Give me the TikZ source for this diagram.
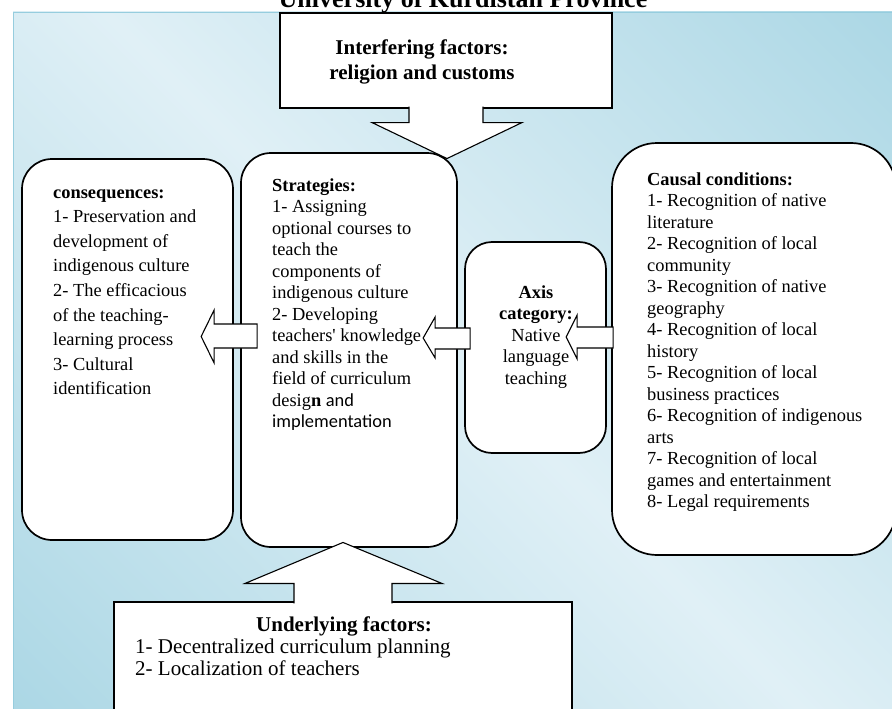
\documentclass[tikz,border=0pt]{standalone}
\usepackage{fontspec}
\setmainfont{Liberation Serif}
\newfontfamily\calibrifont{Carlito}
\usetikzlibrary{calc}

\definecolor{bgdark}{RGB}{150,205,222}
\definecolor{bglight}{RGB}{224,240,246}
\pgfdeclarehorizontalshading{bgfade}{100bp}{color(0bp)=(bgdark); color(50bp)=(bglight); color(100bp)=(bgdark)}

\tikzset{
  roundbox/.style={draw, fill=white, line width=1.7pt, rounded corners=30pt, inner sep=0pt},
  plainbox/.style={draw, fill=white, line width=1.1pt, inner sep=0pt},
  blockarrow/.style={draw, fill=white, line width=1.1pt, line join=miter},
  txt/.style={inner sep=0pt, align=left, font=\fontsize{18.4}{21.5}\selectfont},
}

\begin{document}
\begin{tikzpicture}[x=1pt,y=-1pt]
    \useasboundingbox (0,0) rectangle (892,709);
    \clip (0,0) rectangle (892,709);
    \shade[shading=bgfade, shading angle=45] (13,12) rectangle (896,712);
    \draw[bgdark, line width=0.8pt] (13,712) -- (13,12) -- (896,12);
    \node[inner sep=0pt, anchor=base, font=\bfseries\fontsize{26}{30}\selectfont] (title) at (463,8) {University of Kurdistan Province};

    \node[plainbox, minimum width=332, minimum height=95] (interf) at (446,60.5) {};
    \node[roundbox, minimum width=211, minimum height=381] (conseq) at (127.5,349.5) {};
    \node[roundbox, minimum width=216, minimum height=394] (strat) at (349,350) {};
    \node[roundbox, rounded corners=27pt, minimum width=141, minimum height=211] (axis) at (535.5,347.5) {};
    \node[roundbox, rounded corners=45pt, minimum width=284, minimum height=412] (causal) at (754,349) {};
    \node[plainbox, minimum width=458, minimum height=110] (under) at (343,657) {};

    \node[txt, align=center, anchor=base, font=\bfseries\fontsize{21}{25}\selectfont] (interftxt) at (422,80) {Interfering factors:\\religion and customs};
    \node[txt, anchor=base west, font=\fontsize{18.4}{24.6}\selectfont] (conseqtxt) at (53,394.8) {\textbf{consequences:}\\1- Preservation and\\development of\\indigenous culture\\2- The efficacious\\of the teaching-\\learning process\\3- Cultural\\identification};
    \node[txt, anchor=base west] (strattxt) at (272,427.5) {\textbf{Strategies:}\\1- Assigning\\optional courses to\\teach the\\components of\\indigenous culture\\2- Developing\\teachers\textquotesingle{} knowledge\\and skills in the\\field of curriculum\\desig\textbf{n} {\calibrifont and}\\{\calibrifont implementation}};
    \node[txt, align=center, anchor=base] (axistxt) at (536,384) {\textbf{Axis}\\\textbf{category:}\\Native\\language\\teaching};
    \node[txt, anchor=base west] (causaltxt) at (647,507.5) {\textbf{Causal conditions:}\\1- Recognition of native\\literature\\2- Recognition of local\\community\\3- Recognition of native\\geography\\4- Recognition of local\\history\\5- Recognition of local\\business practices\\6- Recognition of indigenous\\arts\\7- Recognition of local\\games and entertainment\\8- Legal requirements};
    \node[txt, anchor=base, font=\bfseries\fontsize{21}{25}\selectfont] (undhead) at (344,631) {Underlying factors:};
    \node[txt, anchor=base west, font=\fontsize{21}{22.8}\selectfont] (undtxt) at (135,675.8) {1- Decentralized curriculum planning\\2- Localization of teachers};

    \draw[blockarrow, shift={(interf.south)}] (-37,-2) -- (-37,14) -- (-74,14) -- (1,50) -- (76,14) -- (37,14) -- (37,-2);
    \draw[blockarrow, shift={(under.north)}] (-49,2) -- (-49,-18) -- (-98,-18) -- (0,-59) -- (99,-18) -- (49,-18) -- (49,2);
    \draw[blockarrow, shift={(strat.west)}] (17,-26) -- (-26,-26) -- (-26,-40) -- (-39,-13.5) -- (-26,13) -- (-26,-2) -- (17,-2) -- cycle;
    \draw[blockarrow, shift={(axis.west)}] (6,-19.5) -- (-29,-19.5) -- (-29,-30.5) -- (-41,-9.5) -- (-29,10.5) -- (-29,1.5) -- (6,1.5) -- cycle;
    \draw[blockarrow, shift={(causal.west)}] (2,-22) -- (-34,-22) -- (-34,-34) -- (-45,-12) -- (-34,10) -- (-34,-1) -- (2,-1) -- cycle;
\end{tikzpicture}
\end{document}
